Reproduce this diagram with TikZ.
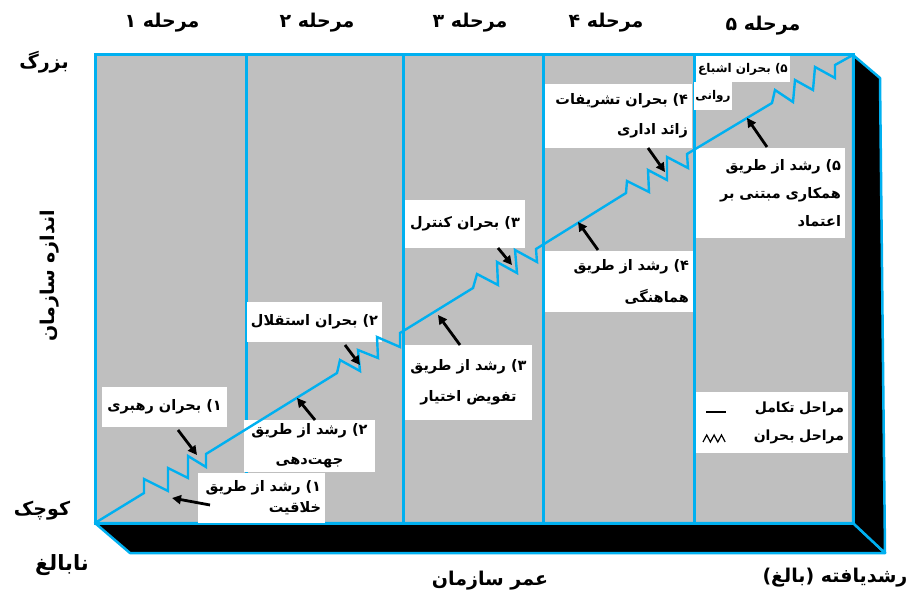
\documentclass[tikz,border=0pt]{standalone}
\usepackage{fontspec}
\newfontfamily\fa[Script=Arabic]{DejaVu Sans}
\TeXXeTstate=1
\usetikzlibrary{arrows.meta}
\newcommand\myR[1]{\beginR#1\endR}
\definecolor{frameblue}{RGB}{0,176,240}
\definecolor{panelgray}{RGB}{191,191,191}
\tikzset{
  box/.style={fill=white, inner xsep=4pt, inner ysep=0pt, font=\fa\bfseries\fontsize{14.5}{30}\selectfont},
  head/.style={inner sep=0pt, font=\fa\bfseries\fontsize{19}{22}\selectfont},
  side/.style={inner sep=0pt, font=\fa\bfseries\fontsize{19}{22}\selectfont},
  arr/.style={draw=black, line width=2.8pt, -{Triangle[length=9pt,width=9pt]}},
  growth/.style={draw=frameblue, line width=2.4pt, line join=miter},
  slab/.style={fill=black, draw=frameblue, line width=2.5pt, line join=round},
}
\begin{document}
\begin{tikzpicture}[x=1pt,y=-1pt]
\useasboundingbox (0,0) rectangle (916,596);
% panel
\fill[panelgray] (95,55) rectangle (853,523);
% black slabs
\path[slab] (95,523) -- (853,523) -- (885,553) -- (130,553) -- cycle;
\path[slab] (853,55) -- (880,78) -- (885,553) -- (853,523) -- cycle;
% frame and dividers
\draw[frameblue, line width=3pt] (95,55) rectangle (853,523);
\foreach \xx in {246,403,543,694} \draw[frameblue, line width=3pt] (\xx,55) -- (\xx,523);
% label boxes
\node[box, minimum height=40pt, minimum width=125pt, align=center] (b1) at (164.5,407) {\myR{۱) بحران رهبری}};
\node[box, minimum height=50pt, text width=119pt, align=right, font=\fa\bfseries\fontsize{14.5}{21}\selectfont] (b2) at (261.5,498) {\myR{۱) رشد از طریق}\\\myR{خلاقیت}};
\node[box, minimum height=52pt, minimum width=131pt, align=center] (b3) at (309.5,446) {\myR{۲) رشد از طریق}\\\myR{جهت‌دهی}};
\node[box, minimum height=40pt, minimum width=135pt, align=center] (b4) at (314.5,322) {\myR{۲) بحران استقلال}};
\node[box, minimum height=75pt, minimum width=127pt, align=center, font=\fa\bfseries\fontsize{14.5}{31}\selectfont] (b5) at (468.5,382.5) {\myR{۳) رشد از طریق}\\\myR{تفویض اختیار}};
\node[box, minimum height=48pt, minimum width=120pt, align=center] (b6) at (465,224) {\myR{۳) بحران کنترل}};
\node[box, minimum height=61pt, text width=140pt, align=right, font=\fa\bfseries\fontsize{14.5}{32}\selectfont] (b7) at (619,281.5) {\myR{۴) رشد از طریق}\\\myR{هماهنگی}};
\node[box, minimum height=64pt, text width=139pt, align=right] (b8) at (618.5,116) {\myR{۴) بحران تشریفات}\\\myR{زائد اداری}};
\node[box, inner xsep=1pt, minimum height=26pt, minimum width=94pt, font=\fa\bfseries\fontsize{12}{14}\selectfont] (b9a) at (743,69) {\myR{۵) بحران اشباع}};
\node[box, inner xsep=1pt, minimum height=28pt, minimum width=34pt, font=\fa\bfseries\fontsize{12}{14}\selectfont] (b9b) at (713,96) {\myR{روانی}};
\node[box, minimum height=90pt, text width=141pt, align=right, font=\fa\bfseries\fontsize{14.5}{28}\selectfont] (b10) at (770.5,193) {\myR{۵) رشد از طریق}\\\myR{همکاری مبتنی بر}\\\myR{اعتماد}};
\node[box, minimum height=61pt, text width=144pt, align=right, font=\fa\bfseries\fontsize{14}{28}\selectfont] (b11) at (772,422.5) {\myR{مراحل تکامل}\\\myR{مراحل بحران}};
% growth line
\draw[growth] (95,523) -- (144,493) -- (144,479) -- (168,491) -- (168,468) -- (188,478) -- (188,456) -- (206,467) -- (206,454)
  -- (337,373) -- (340,360) -- (360,371) -- (358,350) -- (378,358) -- (377,337) -- (400,347) -- (400,333)
  -- (473,288) -- (477,274) -- (498,285) -- (497,262) -- (517,273) -- (515,250) -- (537,262) -- (536,249)
  -- (626,193) -- (627,181) -- (649,192) -- (648,170) -- (667,180) -- (667,157) -- (688,168) -- (687,154)
  -- (772,103) -- (775,90) -- (793,102) -- (795,80) -- (813,90) -- (815,67) -- (835,78) -- (835,65) -- (853,55);
% arrows
\coordinate (t1) at (178,430); \coordinate (h1) at (197,455);
\coordinate (t2) at (210,505); \coordinate (h2) at (172,498);
\coordinate (t3) at (315,420); \coordinate (h3) at (297,398);
\coordinate (t4) at (345,345); \coordinate (h4) at (360,365);
\coordinate (t5) at (460,345); \coordinate (h5) at (438,315);
\coordinate (t6) at (498,248); \coordinate (h6) at (512,265);
\coordinate (t7) at (598,250); \coordinate (h7) at (578,222);
\coordinate (t8) at (648,148); \coordinate (h8) at (665,172);
\coordinate (t9) at (767,147); \coordinate (h9) at (747,118);
\foreach \i in {1,...,9} \draw[arr] (t\i) -- (h\i);
% legend symbols
\coordinate (l1a) at (706,412); \coordinate (l1b) at (726,412);
\draw[black, line width=1.6pt] (l1a) -- (l1b);
\coordinate (l2a) at (703,442);
\draw[black, line width=1.2pt] (l2a) -- ++(3.7,-7) -- ++(3.7,7) -- ++(3.7,-7) -- ++(3.7,7) -- ++(3.7,-7) -- ++(3.7,7);
% outer texts
\node[head] (s1) at (162,23) {\myR{مرحله ۱}};
\node[head] (s2) at (317,23) {\myR{مرحله ۲}};
\node[head] (s3) at (470,23) {\myR{مرحله ۳}};
\node[head] (s4) at (606,23) {\myR{مرحله ۴}};
\node[head] (s5) at (763,26) {\myR{مرحله ۵}};
\node[side] (big) at (44,62) {\myR{بزرگ}};
\node[side] (small) at (42,511) {\myR{کوچک}};
\node[side, font=\fa\bfseries\fontsize{21}{24}\selectfont] (young) at (62,565) {\myR{نابالغ}};
\node[side] (age) at (490,581) {\myR{عمر سازمان}};
\node[side] (mature) at (835,578) {\myR{رشدیافته (بالغ)}};
\node[side, rotate=90] (size) at (50,276) {\myR{اندازه سازمان}};
\end{tikzpicture}
\end{document}
